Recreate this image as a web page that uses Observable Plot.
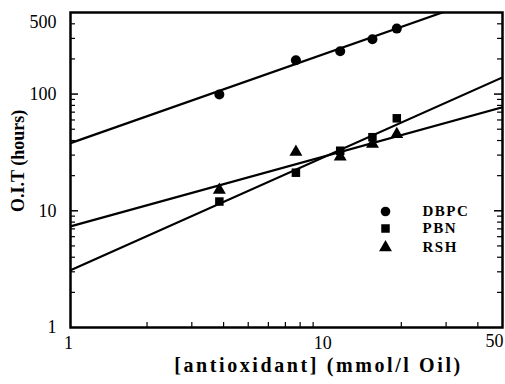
<!DOCTYPE html>
<html>
<head>
<meta charset="utf-8">
<script src="https://cdn.jsdelivr.net/npm/d3@7"></script>
<script src="https://cdn.jsdelivr.net/npm/@observablehq/plot@0.6"></script>
<style>
  html, body { margin: 0; padding: 0; background: #fff; }
  svg { display: block; }
</style>
</head>
<body>
<div id="chart"></div>
<script>
// concentrations (mmol/l Oil)
const conc = [3.85, 7.7, 11.5, 15.4, 19.2];
// O.I.T (hours) per antioxidant
const dbpc = [99, 195, 233, 295, 364];
const pbn  = [12.0, 21.2, 32.7, 42.7, 62];
const rsh  = [15.1, 31.9, 29.1, 37.4, 45.2];
// fitted lines, endpoints
const fitDBPC = [[1, 38], [29, 500]];
const fitPBN  = [[1, 3.1], [50, 139]];
const fitRSH  = [[1, 7.35], [50, 77]];
// ticks
const xLabels = [1, 10];
const xLabelEnd = [50];
const xMinor = [2, 3, 4, 5, 6, 7, 8, 9, 20, 30, 40];
const yLabels = [1, 10, 100];
const yMajor = [10, 100];
const yMinor = [2, 3, 4, 5, 6, 7, 8, 9, 20, 30, 40, 50, 60, 70, 80, 90, 200, 300, 400];
const legendNames = ["DBPC", "PBN", "RSH"];
const legendSymbols = ["circle", "square", "triangle"];
const legendOffsets = [199, 216, 235];
const xTitle = "[antioxidant] (mmol/l Oil)";
const yTitle = "O.I.T (hours)";

const W = 505, H = 384;
const mL = 70, mR = 3, mT = 12, mB = 57;
const iw = W - mL - mR, ih = H - mT - mB;

const pts = (ys) => conc.map((x, i) => ({x, y: ys[i]}));
const fit = (a) => a.map(([x, y]) => ({x, y}));
const font = "Liberation Serif";

const marks = [
  // inward ticks
  Plot.tickX(xMinor, {x: d => d, insetTop: ih - 5, strokeWidth: 1.2}),
  Plot.tickY(yMajor, {y: d => d, insetRight: iw - 8, strokeWidth: 1.5}),
  Plot.tickY(yMinor, {y: d => d, insetRight: iw - 5, strokeWidth: 1.2}),
  Plot.tickY(yMajor, {y: d => d, insetLeft: iw - 8, strokeWidth: 1.5}),
  Plot.tickY(yMinor, {y: d => d, insetLeft: iw - 5, strokeWidth: 1.2}),
  // fitted lines
  Plot.line(fit(fitDBPC), {x: "x", y: "y", stroke: "black", strokeWidth: 2.2, clip: true}),
  Plot.line(fit(fitPBN), {x: "x", y: "y", stroke: "black", strokeWidth: 2.2, clip: true}),
  Plot.line(fit(fitRSH), {x: "x", y: "y", stroke: "black", strokeWidth: 2.2, clip: true}),
  // data points
  Plot.dot(pts(dbpc), {x: "x", y: "y", symbol: "circle", r: 5, fill: "black"}),
  Plot.dot(pts(pbn), {x: "x", y: "y", symbol: "square", r: 4.8, fill: "black"}),
  Plot.dot(pts(rsh), {x: "x", y: "y", symbol: "triangle", r: 4.8, fill: "black"}),
  Plot.frame({stroke: "black", strokeWidth: 2.5}),
  // tick labels
  Plot.text(xLabels, {x: d => d, frameAnchor: "bottom", lineAnchor: "middle", dx: -2, dy: 16, text: d => String(d), fontSize: 18, fontFamily: font}),
  Plot.text(xLabelEnd, {x: d => d, frameAnchor: "bottom", lineAnchor: "middle", dx: -8, dy: 14, text: d => String(d), fontSize: 18, fontFamily: font}),
  Plot.text(yLabels, {y: d => d, frameAnchor: "left", lineAnchor: "middle", dx: -14, textAnchor: "end", text: d => String(d), fontSize: 18, fontFamily: font}),
  Plot.text(["500"], {frameAnchor: "top-left", lineAnchor: "middle", dx: -14, dy: 10, textAnchor: "end", fontSize: 18, fontFamily: font}),
  // axis titles
  Plot.text([xTitle], {frameAnchor: "bottom", lineAnchor: "middle", dx: 32, dy: 38, fontSize: 20, fontWeight: "bold", fontFamily: font}),
  Plot.text([yTitle], {frameAnchor: "left", lineAnchor: "middle", dx: -52, dy: 42, rotate: -90, fontSize: 18, fontWeight: "bold", fontFamily: font}),
];
// legend
legendNames.forEach((name, i) => {
  marks.push(Plot.dot([name], {frameAnchor: "top-left", dx: 315, dy: legendOffsets[i], symbol: legendSymbols[i], r: 4.8, fill: "black"}));
  marks.push(Plot.text([name], {frameAnchor: "top-left", lineAnchor: "middle", dx: 352, dy: legendOffsets[i], textAnchor: "start", fontSize: 15, fontWeight: "bold", fontFamily: font}));
});

const chart = Plot.plot({
  width: W, height: H,
  marginLeft: mL, marginRight: mR, marginTop: mT, marginBottom: mB,
  style: {fontFamily: "Liberation Serif", color: "black", background: "white"},
  x: {type: "log", domain: [1, 50], axis: null},
  y: {type: "log", domain: [1, 500], axis: null},
  marks
});
// letter spacing (not a Plot text option)
d3.select(chart).selectAll("text").each(function () {
  const t = this.textContent;
  if (t === xTitle) this.style.letterSpacing = "2.6px";
  else if (legendNames.includes(t)) this.style.letterSpacing = "1.5px";
});
document.getElementById("chart").appendChild(chart);
</script>
</body>
</html>
